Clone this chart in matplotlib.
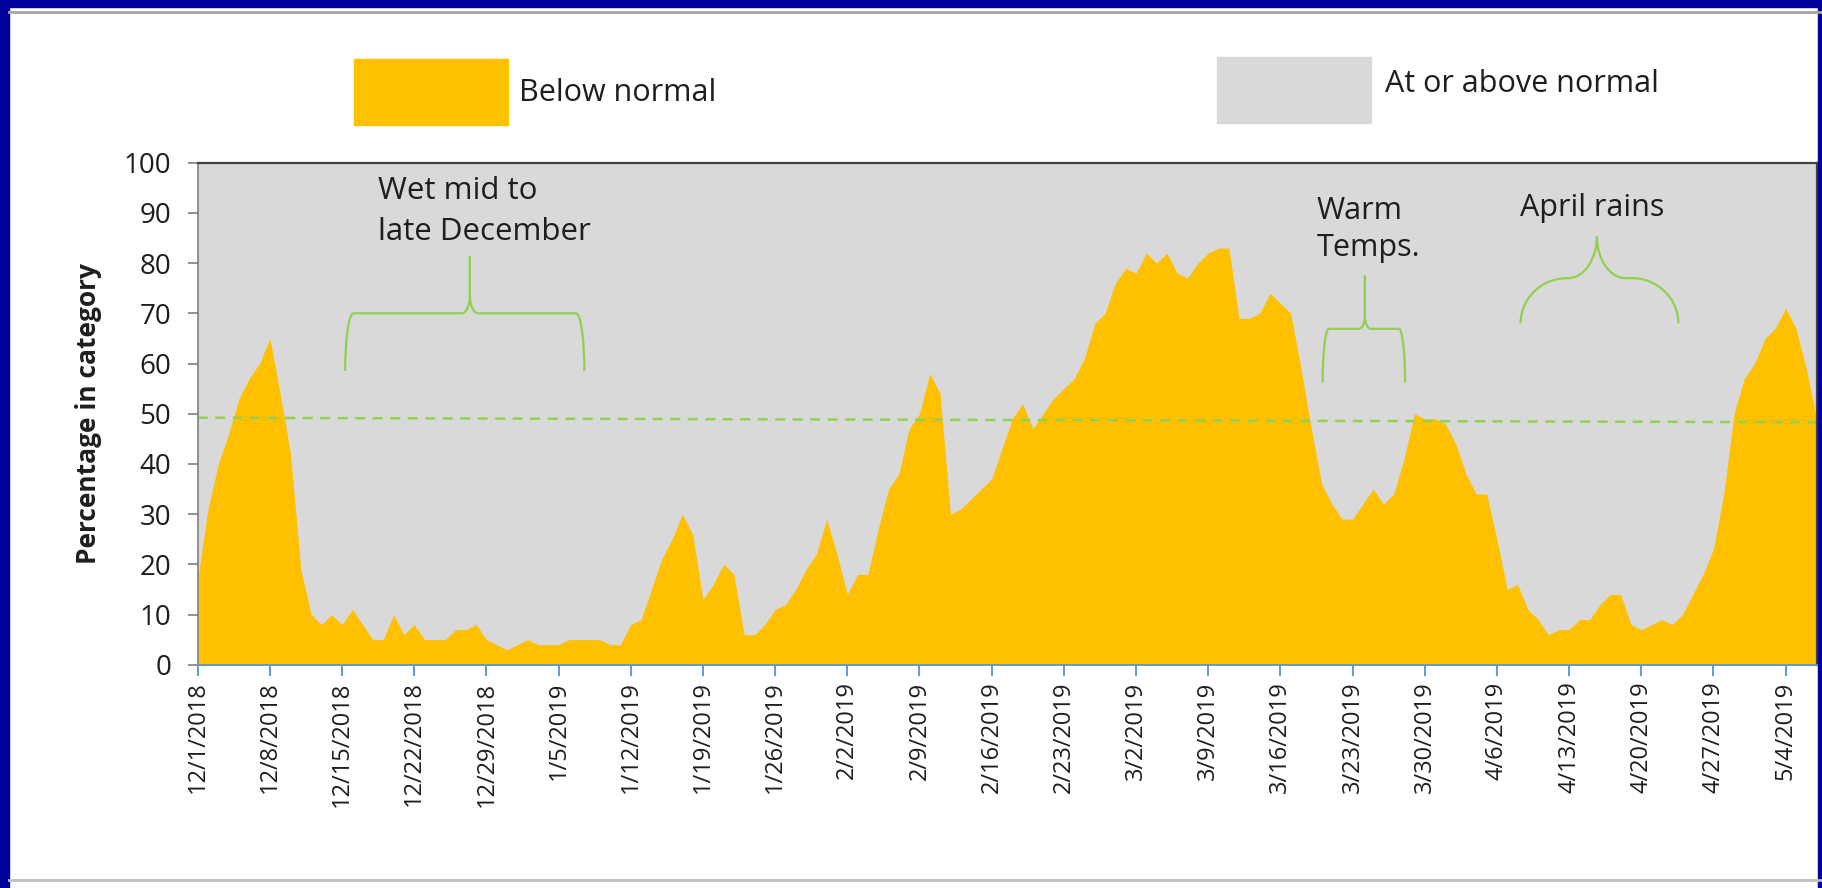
import numpy as np
import pandas as pd
import matplotlib.pyplot as plt
from matplotlib.path import Path
from matplotlib.patches import PathPatch, Rectangle
from matplotlib.lines import Line2D

plt.rcParams['font.family'] = ['Open Sans', 'DejaVu Sans']

# daily percentage in the "below normal" category, 12/1/2018 .. 5/7/2019
below = [17, 31, 40, 46, 53, 57, 60, 65, 54, 42,
         19, 10, 8, 10, 8, 11, 8, 5, 5, 10,
         6, 8, 5, 5, 5, 7, 7, 8, 5, 4,
         3, 4, 5, 4, 4, 4, 5, 5, 5, 5,
         4, 4, 8, 9, 15, 21, 25, 30, 26, 13,
         16, 20, 18, 6, 6, 8, 11, 12, 15, 19,
         22, 29, 22, 14, 18, 18, 27, 35, 38, 47,
         50, 58, 54, 30, 31, 33, 35, 37, 43, 49,
         52, 47, 50, 53, 55, 57, 61, 68, 70, 76,
         79, 78, 82, 80, 82, 78, 77, 80, 82, 83,
         83, 69, 69, 70, 74, 72, 70, 59, 47, 36,
         32, 29, 29, 32, 35, 32, 34, 41, 50, 49,
         49, 48, 44, 38, 34, 34, 25, 15, 16, 11,
         9, 6, 7, 7, 9, 9, 12, 14, 14, 8,
         7, 8, 9, 8, 10, 14, 18, 23, 34, 50,
         57, 60, 65, 67, 71, 67, 59, 49]
dates = pd.date_range("2018-12-01", periods=len(below), freq="D")
tick_dates = dates[::7]
tick_labels = [f"{d.month}/{d.day}/{d.year}" for d in tick_dates]

# dashed "normal" reference line (start / end level)
ref_start, ref_end = 49.2, 48.3

notes = ["Wet mid to\nlate December", "Warm\nTemps.", "April rains"]

YELLOW = '#FFC000'
GREY = '#D9D9D9'
GREEN = '#92D050'
TXT = '#1E1E1E'

fig = plt.figure(figsize=(18.22, 8.88), dpi=100)
fig.patch.set_facecolor('white')

# blue slide frame + sheet edge lines
fig.patches.append(Rectangle((0, 1 - 7 / 888), 1, 7 / 888, transform=fig.transFigure, color='#00009A', zorder=0))
fig.patches.append(Rectangle((0, 0), 9 / 1822, 1, transform=fig.transFigure, color='#00009A', zorder=0))
fig.patches.append(Rectangle((1 - 4 / 1822, 0), 4 / 1822, 1, transform=fig.transFigure, color='#00009A', zorder=0))
fig.lines.append(Line2D([9 / 1822, 1], [1 - 12 / 888] * 2, transform=fig.transFigure, color='#A6A6A6', lw=2))
fig.lines.append(Line2D([9 / 1822, 1], [1 - 880 / 888] * 2, transform=fig.transFigure, color='#BFBFBF', lw=2))

ax = fig.add_axes([0.1085, 0.2514, 0.8885, 0.5654])
x = np.arange(len(below))
ax.fill_between(x, below, 100, color=GREY, lw=0, zorder=1)
ax.fill_between(x, 0, below, color=YELLOW, lw=0, zorder=1)
ax.set_facecolor(GREY)
ax.set_xlim(0, len(below) - 1)
ax.set_ylim(0, 100)

ax.plot([x[0], x[-1]], [ref_start, ref_end], color=GREEN, lw=1.8, dashes=(4, 3), zorder=2)


def brace(xl, xr, xc, yb, ym, yt, r, rc, hc):
    k = 0.55
    h = ym - yb
    verts = [(xl, yb), (xl, yb + k * h), (xl + r - k * r, ym), (xl + r, ym),
             (xc - rc, ym), (xc - rc + k * rc, ym), (xc, ym + hc - k * hc), (xc, ym + hc),
             (xc, yt),
             (xc, yt), (xc, ym + hc),
             (xc, ym + hc - k * hc), (xc + rc - k * rc, ym), (xc + rc, ym),
             (xr - r, ym), (xr - r + k * r, ym), (xr, yb + k * h), (xr, yb)]
    codes = [Path.MOVETO, Path.CURVE4, Path.CURVE4, Path.CURVE4,
             Path.LINETO, Path.CURVE4, Path.CURVE4, Path.CURVE4,
             Path.LINETO,
             Path.MOVETO, Path.LINETO,
             Path.CURVE4, Path.CURVE4, Path.CURVE4,
             Path.LINETO, Path.CURVE4, Path.CURVE4, Path.CURVE4]
    ax.add_patch(PathPatch(Path(verts, codes), fill=False, edgecolor=GREEN, lw=1.6, zorder=3))


brace(14.3, 37.5, 26.4, 58.5, 70, 81.3, 0.8, 0.8, 3.5)
brace(109.1, 117.1, 113.2, 56.2, 66.9, 77.5, 0.6, 0.6, 2.5)
brace(128.3, 143.6, 135.7, 68, 77, 85.3, 4.5, 2.8, 8.3)

ax.text(17.5, 97.3, notes[0], fontsize=22.5, color=TXT, va='top', ha='left', linespacing=1.48, zorder=4)
ax.text(108.5, 93.3, notes[1], fontsize=22, color=TXT, va='top', ha='left', linespacing=1.3, zorder=4)
ax.text(128.2, 94.0, notes[2], fontsize=22, color=TXT, va='top', ha='left', zorder=4)

ax.set_xticks(x[::7])
ax.set_xticklabels(tick_labels, rotation=90, fontsize=17, color=TXT)
ax.set_yticks(np.arange(0, 101, 10))
ax.tick_params(axis='y', labelsize=20, labelcolor=TXT, color='#7F7F7F', length=7, width=1.2, pad=12)
ax.tick_params(axis='x', color='#5B9BD5', length=8, width=1.4, pad=4)
ax.set_ylabel("Percentage in category", fontsize=19, fontweight='bold', color=TXT)
ax.yaxis.set_label_coords(-0.059, 0.5)

for side in ['top', 'right']:
    ax.spines[side].set_color('#404040')
    ax.spines[side].set_linewidth(1.6)
ax.spines['left'].set_color('#7F7F7F')
ax.spines['left'].set_linewidth(1.2)
ax.spines['bottom'].set_color('#5B9BD5')
ax.spines['bottom'].set_linewidth(1.4)

# legend boxes
fig.patches.append(Rectangle((354 / 1822, 1 - 125 / 888), 154 / 1822, 66 / 888, transform=fig.transFigure, color=YELLOW))
fig.patches.append(Rectangle((1217 / 1822, 1 - 123 / 888), 154 / 1822, 66 / 888, transform=fig.transFigure, color=GREY))
fig.text(519 / 1822, 1 - 93 / 888, "Below normal", fontsize=22, color=TXT, va='center', ha='left')
fig.text(1385 / 1822, 1 - 84 / 888, "At or above normal", fontsize=22, color=TXT, va='center', ha='left')

fig.savefig("out.png", dpi=100)
